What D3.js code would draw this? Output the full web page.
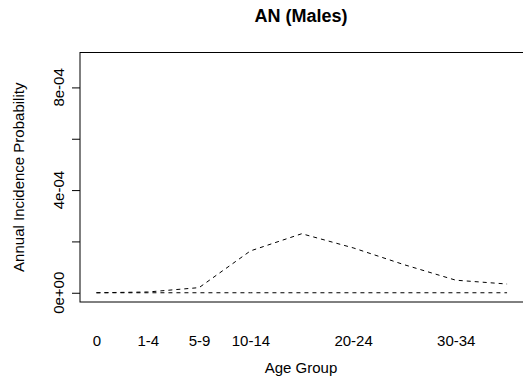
<!DOCTYPE html>
<html>
<head>
<meta charset="utf-8">
<script src="https://cdn.jsdelivr.net/npm/d3@7"></script>
<style>
  html, body { margin: 0; padding: 0; background: #fff; }
  svg { display: block; font-family: "Liberation Sans", Arial, sans-serif; }
</style>
</head>
<body>
<svg id="chart" width="523" height="383"></svg>
<script>
// Data
const ageGroups = ["0", "1-4", "5-9", "10-14", "15-19", "20-24", "25-29", "30-34", "35-39"];
const shownLabels = ["0", "1-4", "5-9", "10-14", "20-24", "30-34"];
const incidence = [0, 0.000003, 0.00002, 0.000163, 0.00023, 0.000175, 0.000109, 0.000049, 0.000034];
const baseline = [0, 0, 0, 0, 0, 0, 0, 0, 0];
const yTicks = [0, 0.0002, 0.0004, 0.0006, 0.0008];
const yTickLabels = ["0e+00", "", "4e-04", "", "8e-04"];
const yMax = 0.0009;

const svg = d3.select("#chart");
const box = { left: 80, right: 523.5, top: 52.5, bottom: 302 };

// R-style 4% padding
const xr = [1, ageGroups.length];
const xpad = (xr[1] - xr[0]) * 0.04;
const ypad = yMax * 0.04;
const x = d3.scaleLinear().domain([xr[0] - xpad, xr[1] + xpad]).range([box.left, box.right]);
const y = d3.scaleLinear().domain([-ypad, yMax + ypad]).range([box.bottom, box.top]);

// Lines
const line = d3.line().x((d, i) => x(i + 1)).y(d => y(d));
svg.append("path").datum(baseline).attr("d", line)
  .attr("fill", "none").attr("stroke", "#000").attr("stroke-width", 1).attr("stroke-dasharray", "4,4");
svg.append("path").datum(incidence).attr("d", line)
  .attr("fill", "none").attr("stroke", "#000").attr("stroke-width", 1).attr("stroke-dasharray", "4,4");

// Box
svg.append("rect").attr("x", box.left).attr("y", box.top)
  .attr("width", box.right - box.left).attr("height", box.bottom - box.top)
  .attr("fill", "none").attr("stroke", "#000").attr("stroke-width", 1);

// Y axis
const yAxis = d3.axisLeft(y).tickValues(yTicks).tickSize(8).tickFormat("");
const yg = svg.append("g").attr("transform", `translate(${box.left},0)`).call(yAxis);
yg.select(".domain").remove();
yg.selectAll(".tick line").attr("stroke", "#000");
svg.append("g").selectAll("text").data(yTicks).join("text")
  .attr("transform", d => `translate(64,${y(d)}) rotate(-90)`)
  .attr("text-anchor", "middle")
  .attr("font-size", 15)
  .attr("fill", "#000")
  .text((d, i) => yTickLabels[i]);

// X labels (no ticks)
const xg = svg.append("g").attr("transform", `translate(0,${box.bottom})`)
  .call(d3.axisBottom(x).tickValues(ageGroups.map((d, i) => i + 1)).tickSize(0)
    .tickFormat((d) => shownLabels.includes(ageGroups[d - 1]) ? ageGroups[d - 1] : ""));
xg.select(".domain").remove();
xg.selectAll(".tick text").attr("font-size", 15).attr("font-family", "Liberation Sans, Arial, sans-serif")
  .attr("fill", "#000").attr("dy", null).attr("y", 43.7);

// Titles
svg.append("text").attr("x", 301).attr("y", 22).attr("text-anchor", "middle")
  .attr("font-size", 18).attr("font-weight", "bold").text("AN (Males)");
svg.append("text").attr("x", 301).attr("y", 373).attr("text-anchor", "middle")
  .attr("font-size", 15).text("Age Group");
svg.append("text").attr("transform", `translate(24,${(box.top + box.bottom) / 2}) rotate(-90)`)
  .attr("text-anchor", "middle").attr("font-size", 15).text("Annual Incidence Probability");
</script>
</body>
</html>
